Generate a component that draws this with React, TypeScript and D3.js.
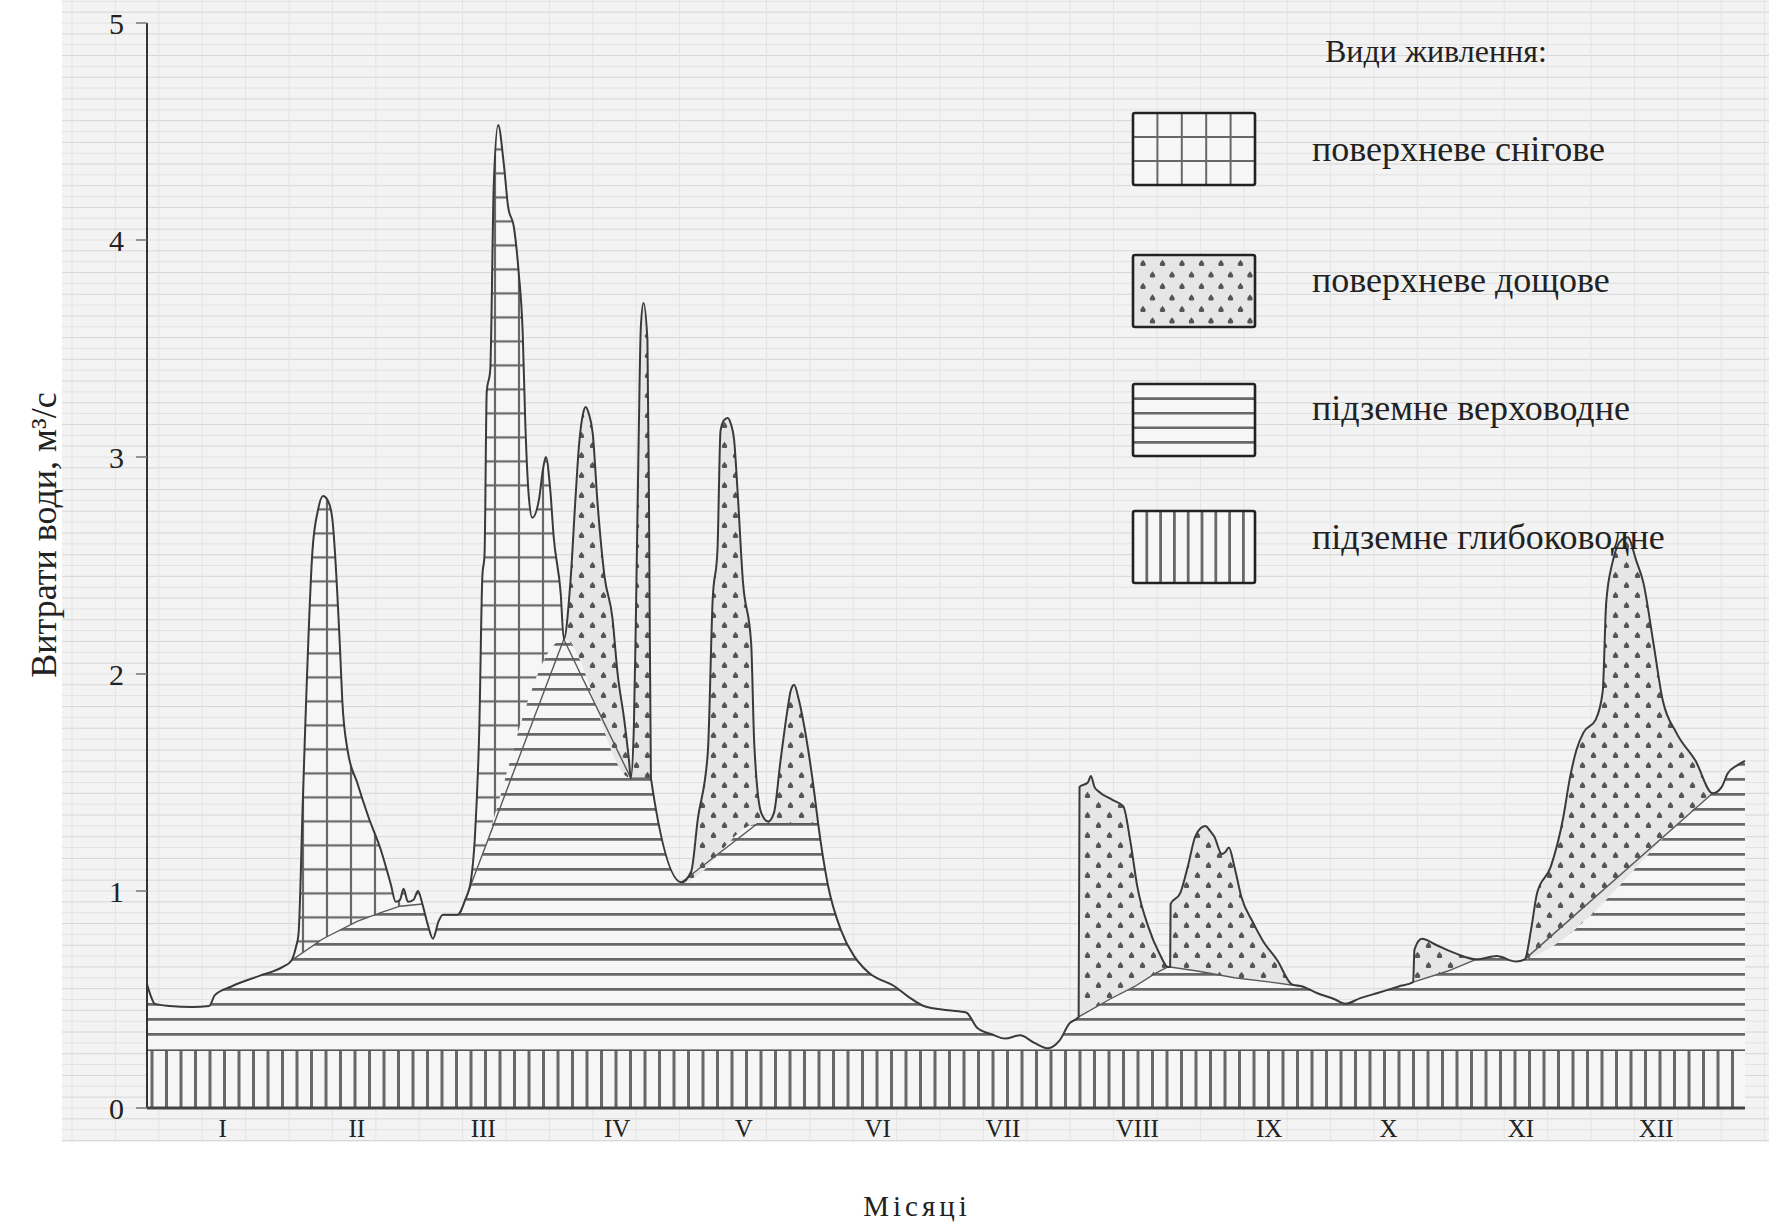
import React from "react";
import * as d3 from "d3";

type Pt = [number, number];

// Total daily discharge (day of year, m³/s)
const totalFlow: Pt[] = [
  [0, 0.57], [0.8, 0.52], [1.8, 0.48], [5.2, 0.47], [10.3, 0.465], [14.2, 0.47], [15.5, 0.52], [19.3, 0.56], [25.8, 0.61], [31.0, 0.65], [33.0, 0.68],
  [34.0, 0.74], [34.6, 0.8], [35.6, 1.42], [36.1, 1.73], [37.8, 2.57], [39.0, 2.75], [40.2, 2.82], [41.3, 2.8], [42.3, 2.72], [44.1, 2.11], [44.6, 1.88], [45.8, 1.65], [48.0, 1.5], [50.6, 1.34], [53.4, 1.19], [55.7, 1.03], [56.8, 0.95], [57.8, 0.96], [58.6, 1.01], [59.6, 0.95], [60.9, 0.96], [61.9, 1.0], [62.9, 0.94],
  [64.2, 0.84], [65.3, 0.78], [66.6, 0.86], [67.6, 0.89], [70.9, 0.89], [72.7, 0.96],
  [74.0, 1.05], [74.9, 1.25], [75.9, 1.75], [76.6, 2.45], [77.1, 2.55], [77.6, 3.3], [78.4, 3.4], [79.2, 4.25], [80.2, 4.53], [81.5, 4.35], [82.5, 4.15], [83.8, 4.06], [84.9, 3.85], [85.8, 3.58], [86.4, 3.16], [87.2, 2.82], [88.0, 2.72], [89.5, 2.8], [90.5, 2.95], [91.1, 3.0], [92.1, 2.85], [92.9, 2.63], [94.5, 2.37], [95.2, 2.16],
  [96.7, 2.42], [97.9, 2.82], [98.7, 3.06], [99.6, 3.2], [100.2, 3.23], [100.9, 3.2], [101.8, 3.11], [102.9, 2.79], [104.5, 2.45], [106.3, 2.26], [107.5, 2.0], [109.0, 1.79], [110.1, 1.6], [110.5, 1.52], [111.2, 1.75], [111.7, 2.3], [112.3, 3.08], [112.8, 3.6], [113.4, 3.71], [114.3, 3.54], [114.7, 2.67], [115.1, 1.52],
  [122.1, 1.04],
  [124.3, 1.09], [125.8, 1.33], [128.1, 1.64], [129.2, 2.34], [130.3, 2.57], [131.0, 3.12], [131.8, 3.17], [132.6, 3.18], [133.4, 3.15], [134.1, 3.08], [134.9, 2.84], [136.1, 2.43], [138.0, 2.14], [138.7, 1.68], [140.3, 1.36], [141.9, 1.32], [143.2, 1.36], [144.7, 1.6], [146.4, 1.85], [147.0, 1.92], [147.8, 1.95], [148.9, 1.88], [150.2, 1.75], [152.5, 1.44], [153.3, 1.31],
  [155.5, 1.03], [158.5, 0.82], [161.5, 0.7], [163.5, 0.65], [165.1, 0.62], [170.8, 0.56], [174.1, 0.51], [177.4, 0.47], [183.0, 0.45], [187.1, 0.44], [189.6, 0.37], [192.9, 0.34], [196.0, 0.32], [199.4, 0.335], [202.7, 0.3], [205.8, 0.275], [208.4, 0.31], [210.7, 0.39], [212.8, 0.42],
  [213.0, 1.48], [214.9, 1.5], [215.6, 1.53], [216.4, 1.48], [217.3, 1.46], [220.5, 1.42], [223.0, 1.39], [224.6, 1.23], [226.2, 1.02], [228.8, 0.83], [231.3, 0.71], [233.2, 0.65],
  [233.7, 0.65], [233.8, 0.94], [236.0, 0.99], [237.7, 1.11], [239.4, 1.25], [240.7, 1.29], [241.8, 1.3], [242.7, 1.28], [243.8, 1.25], [245.5, 1.17], [246.3, 1.18], [247.1, 1.2], [248.4, 1.11], [250.0, 0.97], [252.5, 0.86], [254.9, 0.77], [258.2, 0.68], [261.5, 0.57], [263.9, 0.56],
  [267.2, 0.53], [271.4, 0.5], [273.7, 0.48], [277.0, 0.505], [281.1, 0.53], [285.9, 0.56], [289.2, 0.58], [289.5, 0.73], [291.2, 0.78], [294.6, 0.75], [299.2, 0.71], [303.6, 0.685], [308.3, 0.7], [312.7, 0.675], [314.7, 0.685],
  [316.2, 0.83], [317.5, 0.99], [320.6, 1.11], [323.5, 1.34], [325.0, 1.52], [326.5, 1.65], [328.1, 1.73], [330.9, 1.79], [332.5, 1.92], [333.3, 2.33], [334.8, 2.52], [336.9, 2.62], [338.2, 2.63], [340.2, 2.52], [341.8, 2.42], [344.1, 2.14], [346.2, 1.88], [349.3, 1.73], [353.7, 1.6], [357.6, 1.45], [359.7, 1.48], [361.0, 1.54], [363.3, 1.58], [365, 1.6],
];

// Upper boundary of groundwater (perched) flow during surface-runoff episodes
const febSnowBase: Pt[] = [[33.0, 0.68], [40.2, 0.78], [48.0, 0.86], [53.4, 0.9], [57.8, 0.93], [62.9, 0.94]];
const marSnowBase: Pt[] = [[72.7, 0.96], [95.2, 2.16]];
const aprRainBase: Pt[] = [[95.2, 2.16], [110.5, 1.52], [115.1, 1.52]];
const mayRainBase: Pt[] = [[122.1, 1.04], [139.4, 1.31], [153.3, 1.31]];
const augRainBase: Pt[] = [[212.8, 0.42], [219.8, 0.5], [225.6, 0.56], [230.3, 0.62], [233.2, 0.65]];
const sepRainBase: Pt[] = [[233.7, 0.65], [240.2, 0.63], [248.4, 0.6], [256.6, 0.58], [263.9, 0.56]];
const octRainBase: Pt[] = [[289.2, 0.58], [297.0, 0.63], [303.6, 0.685]];
const novDecRainBase: Pt[] = [[314.7, 0.685], [357.6, 1.45]];

// Deep groundwater flow
const deepGroundwater: Pt[] = [[0, 0.27], [365, 0.27]];

const yTicks = [0, 1, 2, 3, 4, 5];
const monthLabels = ["I", "II", "III", "IV", "V", "VI", "VII", "VIII", "IX", "X", "XI", "XII"];
const monthLabelDays = [17.3, 47.9, 76.8, 107.4, 136.3, 166.9, 195.5, 226.2, 256.3, 283.6, 313.8, 344.7];
const legendTitle = "Види живлення:";
const legendLabels = ["поверхневе снігове", "поверхневе дощове", "підземне верховодне", "підземне глибоководне"];
const yTitle = "Витрати води, м³/с";
const xTitle = "Місяці";

const FONT = "'Liberation Serif', 'DejaVu Serif', serif";
const HATCH = "#686868";

export default function App() {
  const W = 1769;
  const H = 1226;
  const x = d3.scaleLinear().domain([0, 365]).range([147, 1745]);
  const y = d3.scaleLinear().domain([0, 5]).range([1108, 23]);

  const episodes = [
    { kind: "snow", base: febSnowBase },
    { kind: "snow", base: marSnowBase },
    { kind: "rain", base: aprRainBase },
    { kind: "rain", base: mayRainBase },
    { kind: "rain", base: augRainBase },
    { kind: "rain", base: sepRainBase },
    { kind: "rain", base: octRainBase },
    { kind: "rain", base: novDecRainBase },
  ];
  const within = (d: number) =>
    episodes.some((e) => d > e.base[0][0] && d < e.base[e.base.length - 1][0]);
  const merged: Pt[] = [...totalFlow.filter((p) => !within(p[0])), ...episodes.flatMap((e) => e.base)].sort(
    (a, b) => a[0] - b[0]
  );
  const groundTop = merged.filter((p, i, a) => i === 0 || Math.abs(p[0] - a[i - 1][0]) > 1e-9);

  const curve = d3.curveMonotoneX;
  const under = d3.area<Pt>().x((p) => x(p[0])).y0(y(0)).y1((p) => y(p[1])).curve(curve);
  const above = d3.area<Pt>().x((p) => x(p[0])).y0(0).y1((p) => y(p[1])).curve(curve);
  const line = d3.line<Pt>().x((p) => x(p[0])).y((p) => y(p[1])).curve(curve);
  const baseLine = d3.line<Pt>().x((p) => x(p[0])).y((p) => y(p[1])).curve(d3.curveLinear);

  const yDeep = y(deepGroundwater[0][1]);
  const hLines = d3.range(yDeep - 15, y(2.4), -15);
  const vLines = d3.range(x(0) + 5, x(365) - 3, 14.5);
  const paperTop = 0;
  const paperBottom = 1142;
  const paperLeft = 62;
  const paperH = d3.range(y(0) + 10.85 * 3, paperTop, -10.85);
  const paperV = d3.range(paperLeft + 10, W, 43.4);

  const lx = 1133;
  const lw = 122;
  const lh = 72;
  const boxTops = [113, 255, 384, 511];
  const labelYs = [148, 279, 407, 536];

  const drop = "M0,-3.3 C1.6,-1.2 3,0.4 2.7,1.9 C2.3,3.5 -2.3,3.5 -2.7,1.9 C-3,0.4 -1.6,-1.2 0,-3.3Z";

  return (
    <svg
      width={W}
      height={H}
      viewBox={`0 0 ${W} ${H}`}
      style={{ position: "absolute", left: 0, top: 0, background: "#fff" }}
    >
      <defs>
        <clipPath id="cUnderTotal">
          <path d={under(totalFlow) || ""} />
        </clipPath>
        <clipPath id="cUnderBase">
          <path d={under(groundTop) || ""} />
        </clipPath>
        <clipPath id="cAboveBase">
          <path d={above(groundTop) || ""} />
        </clipPath>
        <pattern id="pSnow" patternUnits="userSpaceOnUse" x={x(0)} y={yDeep} width={24} height={24}>
          <line x1={0} x2={24} y1={12} y2={12} stroke={HATCH} strokeWidth={2.2} />
          <line x1={12} x2={12} y1={0} y2={24} stroke={HATCH} strokeWidth={2.2} />
        </pattern>
        <pattern id="pRain" patternUnits="userSpaceOnUse" x={x(0)} y={0} width={22} height={20}>
          <path d={drop} transform="translate(5.5,5)" fill="#555" />
          <path d={drop} transform="translate(16.5,15)" fill="#555" />
        </pattern>
      </defs>

      {/* paper background */}
      <rect x={0} y={0} width={W} height={H} fill="#ffffff" />
      <rect x={paperLeft} y={paperTop} width={W - paperLeft} height={paperBottom - paperTop} fill="#f3f3f3" />
      {paperH.map((py, i) => (
        <line key={"ph" + i} x1={paperLeft} x2={W} y1={py} y2={py} stroke={i % 2 ? "#e2e2e2" : "#d6d6d6"} strokeWidth={1} />
      ))}
      {paperV.map((px, i) => (
        <line key={"pv" + i} x1={px} x2={px} y1={paperTop} y2={paperBottom} stroke="#e4e4e4" strokeWidth={1} />
      ))}

      {/* deep groundwater */}
      <g clipPath="url(#cUnderTotal)">
        <rect x={x(0)} y={yDeep} width={x(365) - x(0)} height={y(0) - yDeep} fill="#f6f6f6" />
        {vLines.map((vx, i) => (
          <line key={"v" + i} x1={vx} x2={vx} y1={yDeep} y2={y(0)} stroke={HATCH} strokeWidth={3} />
        ))}
        <line x1={x(0)} x2={x(365)} y1={yDeep} y2={yDeep} stroke="#555" strokeWidth={3} />
      </g>

      {/* upper groundwater */}
      <g clipPath="url(#cUnderTotal)">
        <g clipPath="url(#cUnderBase)">
          <rect x={x(0)} y={y(2.5)} width={x(365) - x(0)} height={yDeep - y(2.5)} fill="#f6f6f6" />
          {hLines.map((hy, i) => (
            <line key={"h" + i} x1={x(0)} x2={x(365)} y1={hy} y2={hy} stroke={HATCH} strokeWidth={2.6} />
          ))}
        </g>
      </g>

      {/* surface runoff */}
      <g clipPath="url(#cUnderTotal)">
        <g clipPath="url(#cAboveBase)">
          {episodes.map((e, i) => {
            const x0 = x(e.base[0][0]);
            const x1 = x(e.base[e.base.length - 1][0]);
            return (
              <g key={"ep" + i}>
                <rect x={x0} y={0} width={x1 - x0} height={y(0)} fill={e.kind === "rain" ? "#e6e6e6" : "#f6f6f6"} />
                <rect x={x0} y={0} width={x1 - x0} height={y(0)} fill={e.kind === "rain" ? "url(#pRain)" : "url(#pSnow)"} />
              </g>
            );
          })}
        </g>
      </g>

      {/* boundaries */}
      {episodes.map((e, i) => (
        <path key={"bl" + i} d={baseLine(e.base) || ""} fill="none" stroke="#595959" strokeWidth={1.4} />
      ))}
      <path d={line(totalFlow) || ""} fill="none" stroke="#3a3a3a" strokeWidth={2} strokeLinejoin="round" />

      {/* axes */}
      <line x1={x(0)} x2={x(0)} y1={y(0)} y2={y(5)} stroke="#333" strokeWidth={2} />
      <line x1={x(0)} x2={x(365)} y1={y(0)} y2={y(0)} stroke="#444" strokeWidth={3} />
      {yTicks.map((t) => (
        <g key={"yt" + t}>
          <line x1={x(0) - 11} x2={x(0)} y1={y(t)} y2={y(t)} stroke="#777" strokeWidth={1.5} />
          <text x={124} y={y(t)} dy="0.35em" textAnchor="end" fontFamily={FONT} fontSize={30} fill="#222">
            {t}
          </text>
        </g>
      ))}
      {monthLabels.map((m, i) => (
        <text key={m} x={x(monthLabelDays[i])} y={1137} textAnchor="middle" fontFamily={FONT} fontSize={25} fill="#222">
          {m}
        </text>
      ))}
      <text
        transform={`translate(43,535) rotate(-90)`}
        textAnchor="middle"
        dy="0.35em"
        fontFamily={FONT}
        fontSize={36}
        fill="#222"
      >
        {yTitle}
      </text>
      <text x={917} y={1216} textAnchor="middle" fontFamily={FONT} fontSize={29} letterSpacing={4} fill="#222">
        {xTitle}
      </text>

      {/* legend */}
      <text x={1325} y={51} dy="0.35em" fontFamily={FONT} fontSize={32} fill="#222">
        {legendTitle}
      </text>
      {legendLabels.map((lab, i) => {
        const top = boxTops[i];
        return (
          <g key={"lg" + i}>
            <rect x={lx} y={top} width={lw} height={lh} fill="#f7f7f7" />
            {i === 0 && (
              <g>
                {d3.range(1, 5).map((k) => (
                  <line key={"sv" + k} x1={lx + 24.4 * k} x2={lx + 24.4 * k} y1={top} y2={top + lh} stroke={HATCH} strokeWidth={2} />
                ))}
                {d3.range(1, 3).map((k) => (
                  <line key={"sh" + k} x1={lx} x2={lx + lw} y1={top + (lh / 3) * k} y2={top + (lh / 3) * k} stroke={HATCH} strokeWidth={2} />
                ))}
              </g>
            )}
            {i === 1 && (
              <g>
                <rect x={lx} y={top} width={lw} height={lh} fill="#e6e6e6" />
                {d3.range(0, 6).map((r) =>
                  d3.range(0, 6).map((c) => (
                    <path
                      key={"d" + r + "-" + c}
                      d={drop}
                      transform={`translate(${lx + 10 + c * 19.5 + (r % 2) * 9.5},${top + 8 + r * 11.5})`}
                      fill="#555"
                    />
                  ))
                )}
              </g>
            )}
            {i === 2 &&
              d3.range(1, 5).map((k) => (
                <line key={"lh" + k} x1={lx} x2={lx + lw} y1={top + 14.6 * k} y2={top + 14.6 * k} stroke={HATCH} strokeWidth={2.6} />
              ))}
            {i === 3 &&
              d3.range(1, 9).map((k) => (
                <line key={"lv" + k} x1={lx + 13.8 * k} x2={lx + 13.8 * k} y1={top} y2={top + lh} stroke={HATCH} strokeWidth={2.8} />
              ))}
            <rect x={lx} y={top} width={lw} height={lh} fill="none" stroke="#222" strokeWidth={2.6} rx={2} />
            <text x={1312} y={labelYs[i]} dy="0.35em" fontFamily={FONT} fontSize={36} fill="#222">
              {lab}
            </text>
          </g>
        );
      })}
    </svg>
  );
}
